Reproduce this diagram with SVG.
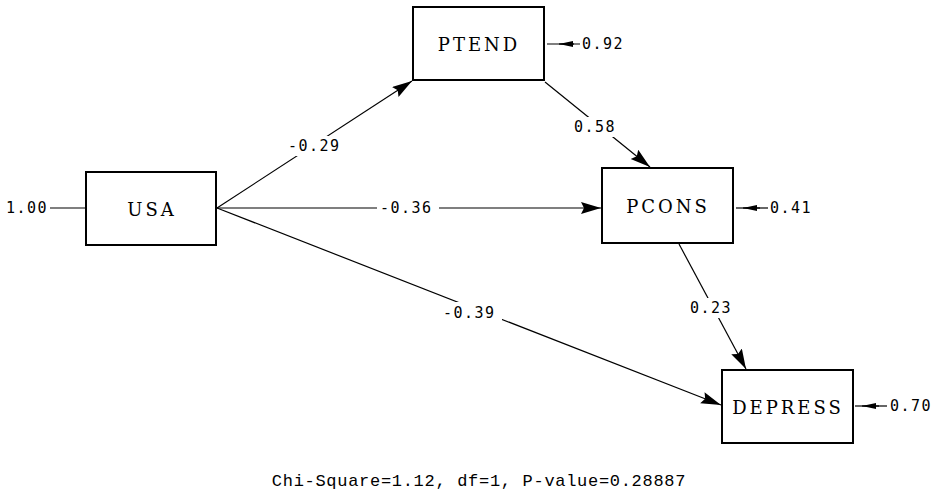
<svg xmlns="http://www.w3.org/2000/svg" width="940" height="494" viewBox="0 0 940 494">
<style>
.box{fill:#fff;stroke:#000;stroke-width:2}
.nl{font-family:"DejaVu Serif","Liberation Serif",serif;font-size:18px;letter-spacing:3px;text-anchor:middle;fill:#000}
.el{font-family:"DejaVu Sans Mono",monospace;font-size:15px;letter-spacing:1.5px;fill:#000}
.ln{stroke:#000;stroke-width:1.2;fill:none}
.bg{fill:#fff}
</style>
<defs>
<marker id="ah" markerUnits="userSpaceOnUse" markerWidth="22" markerHeight="14" refX="20" refY="6" orient="auto">
<path d="M0,0 L20,6 L0,12 L3,6 z" fill="#000"/>
</marker>
<marker id="sh" markerUnits="userSpaceOnUse" markerWidth="16" markerHeight="10" refX="14" refY="4" orient="auto">
<path d="M0,1 L14,4 L0,7 z" fill="#000"/>
</marker>
</defs>
<g id="connectors">
<line class="ln" x1="50" y1="208" x2="86" y2="208"/>
<line class="ln" x1="217" y1="208" x2="412" y2="81" marker-end="url(#ah)"/>
<line class="ln" x1="217" y1="208" x2="601" y2="208" marker-end="url(#ah)"/>
<line class="ln" x1="217" y1="208" x2="721" y2="405" marker-end="url(#ah)"/>
<line class="ln" x1="545" y1="82" x2="650" y2="167" marker-end="url(#ah)"/>
<line class="ln" x1="679" y1="244" x2="746" y2="369" marker-end="url(#ah)"/>
<line class="ln" x1="580" y1="44" x2="547" y2="44"/>
<line class="ln" x1="574" y1="44" x2="559" y2="44" marker-end="url(#sh)"/>
<line class="ln" x1="768" y1="208" x2="736" y2="208"/>
<line class="ln" x1="760" y1="208" x2="743" y2="208" marker-end="url(#sh)"/>
<line class="ln" x1="887" y1="406" x2="855" y2="406"/>
<line class="ln" x1="879" y1="406" x2="862" y2="406" marker-end="url(#sh)"/>
<rect class="bg" x="285" y="136" width="62" height="20"/>
<text class="el" x="288" y="151">-0.29</text>
<rect class="bg" x="377" y="199" width="62" height="18"/>
<text class="el" x="380" y="213">-0.36</text>
<rect class="bg" x="440" y="302" width="62" height="20"/>
<text class="el" x="443" y="318">-0.39</text>
<rect class="bg" x="570" y="117" width="48" height="20"/>
<text class="el" x="574" y="132">0.58</text>
<rect class="bg" x="686" y="298" width="48" height="20"/>
<text class="el" x="690" y="313">0.23</text>
<text class="el" x="6" y="213">1.00</text>
<text class="el" x="582" y="49">0.92</text>
<text class="el" x="770" y="213">0.41</text>
<text class="el" x="890" y="411">0.70</text>
</g>
<g id="USA"><rect class="box" x="86" y="172" width="130" height="73"/><text class="nl" x="152" y="216">USA</text></g>
<g id="PTEND"><rect class="box" x="413" y="7" width="131" height="73"/><text class="nl" x="479" y="51">PTEND</text></g>
<g id="PCONS"><rect class="box" x="602" y="168" width="131" height="75"/><text class="nl" x="668" y="213">PCONS</text></g>
<g id="DEPRESS"><rect class="box" x="722" y="370" width="131" height="73"/><text class="nl" x="788" y="414">DEPRESS</text></g>
<text x="479" y="486" style="font-family:'Liberation Mono','Courier New',monospace;font-size:17px;letter-spacing:0.7px;text-anchor:middle;fill:#000">Chi-Square=1.12, df=1, P-value=0.28887</text>
</svg>
